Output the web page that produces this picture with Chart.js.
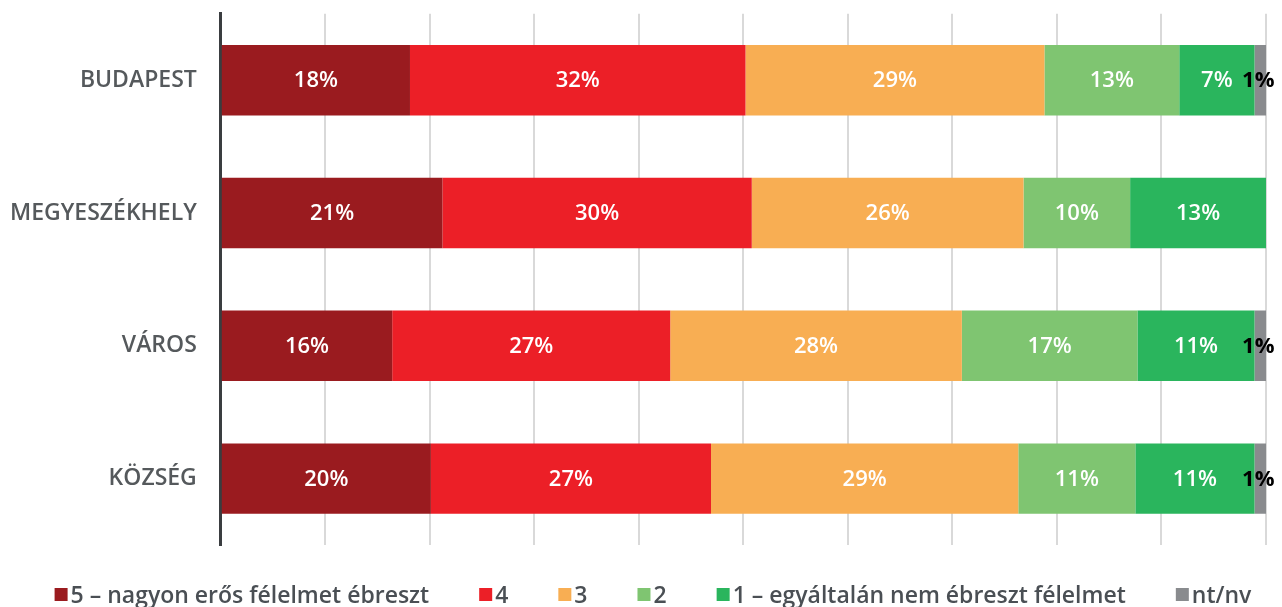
<!DOCTYPE html>
<html>
<head>
<meta charset="utf-8">
<script src="https://cdn.jsdelivr.net/npm/chart.js@4.4.1/dist/chart.umd.min.js"></script>
<style>
  html, body { margin: 0; padding: 0; background: #ffffff; }
  #wrap { width: 1282px; height: 607px; position: relative; }
</style>
</head>
<body>
<div id="wrap"><canvas id="c" width="1282" height="607"></canvas></div>
<script>
const categories = ['BUDAPEST', 'MEGYESZÉKHELY', 'VÁROS', 'KÖZSÉG'];
const seriesNames = ['5 – nagyon erős félelmet ébreszt', '4', '3', '2', '1 – egyáltalán nem ébreszt félelmet', 'nt/nv'];
const s5 = [18.1, 21.2, 16.4, 20.1];
const s4 = [32.1, 29.6, 26.6, 26.8];
const s3 = [28.6, 26.0, 27.9, 29.4];
const s2 = [12.9, 10.2, 16.8, 11.2];
const s1 = [7.2, 13.0, 11.2, 11.4];
const sNt = [1.1, 0, 1.1, 1.1];
const colors = ['#9a1b1f', '#ec1f27', '#f8ae53', '#7fc571', '#2ab55d', '#898b8e'];
const labelColors = ['#ffffff', '#ffffff', '#ffffff', '#ffffff', '#ffffff', '#000000'];

const FONT = "'Open Sans', sans-serif";
const seriesData = [s5, s4, s3, s2, s1, sNt];

const datasets = seriesData.map((d, i) => ({
  label: seriesNames[i],
  data: d,
  backgroundColor: colors[i],
  borderWidth: 0,
  barPercentage: 0.53,
  categoryPercentage: 1.0
}));

const valueLabels = {
  id: 'valueLabels',
  afterDatasetsDraw(chart) {
    const ctx = chart.ctx;
    ctx.save();
    ctx.textAlign = 'center';
    ctx.textBaseline = 'middle';
    chart.data.datasets.forEach((ds, di) => {
      const meta = chart.getDatasetMeta(di);
      if (meta.hidden) return;
      meta.data.forEach((el, i) => {
        const v = ds.data[i];
        if (!v) return;
        const cx = (el.x + el.base) / 2;
        ctx.fillStyle = labelColors[di];
        ctx.font = (di === 5 ? '700 ' : '600 ') + '22px ' + FONT;
        ctx.fillText(Math.round(v) + '%', di === 5 ? cx - 2 : cx, el.y + 1);
      });
    });
    ctx.restore();
  }
};

const customLegend = {
  id: 'customLegend',
  afterDraw(chart) {
    const ctx = chart.ctx;
    const box = 13, textGap = 3, itemGap = 50;
    ctx.save();
    ctx.font = '600 23px ' + FONT;
    ctx.textBaseline = 'alphabetic';
    ctx.textAlign = 'left';
    const items = chart.data.datasets.map(ds => ({
      text: ds.label, color: ds.backgroundColor, w: ctx.measureText(ds.label).width
    }));
    const total = items.reduce((a, it) => a + box + textGap + it.w, 0) + itemGap * (items.length - 1);
    let x = (chart.width - total) / 2 + 12;
    const baseY = 603;
    items.forEach(it => {
      ctx.fillStyle = it.color;
      ctx.fillRect(x, baseY - 15, box, box);
      ctx.fillStyle = '#4a4f54';
      ctx.fillText(it.text, x + box + textGap, baseY);
      x += box + textGap + it.w + itemGap;
    });
    ctx.restore();
  }
};

new Chart(document.getElementById('c'), {
  type: 'bar',
  data: { labels: categories, datasets },
  options: {
    indexAxis: 'y',
    responsive: false,
    animation: false,
    layout: { padding: { left: 10, right: 16, top: 12, bottom: 62 } },
    scales: {
      x: {
        stacked: true,
        min: 0, max: 100,
        ticks: { display: false, stepSize: 10 },
        grid: { color: '#d9d9d9', lineWidth: 2, drawTicks: false },
        border: { display: false }
      },
      y: {
        stacked: true,
        grid: { display: false, drawTicks: true, tickLength: 24, tickColor: 'rgba(0,0,0,0)' },
        border: { display: true, color: '#3a3d40', width: 3 },
        ticks: { color: '#55595c', font: { family: FONT, size: 23, weight: '600' }, padding: 0 }
      }
    },
    plugins: {
      legend: { display: false },
      tooltip: { enabled: false }
    }
  },
  plugins: [valueLabels, customLegend]
});
</script>
</body>
</html>
